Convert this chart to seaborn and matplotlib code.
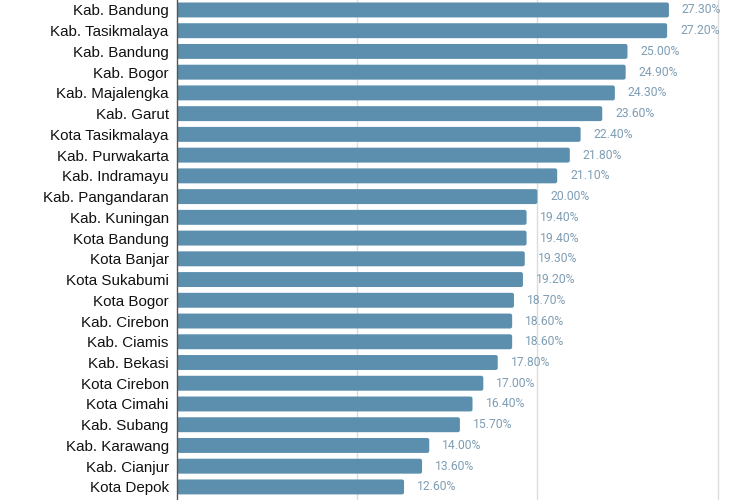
import numpy as np
import pandas as pd
import matplotlib
matplotlib.use('Agg')
import matplotlib.pyplot as plt
import seaborn as sns
from matplotlib.patches import FancyBboxPatch

wilayah = ['Kab. Bandung', 'Kab. Tasikmalaya', 'Kab. Bandung', 'Kab. Bogor',
           'Kab. Majalengka', 'Kab. Garut', 'Kota Tasikmalaya', 'Kab. Purwakarta',
           'Kab. Indramayu', 'Kab. Pangandaran', 'Kab. Kuningan', 'Kota Bandung',
           'Kota Banjar', 'Kota Sukabumi', 'Kota Bogor', 'Kab. Cirebon',
           'Kab. Ciamis', 'Kab. Bekasi', 'Kota Cirebon', 'Kota Cimahi',
           'Kab. Subang', 'Kab. Karawang', 'Kab. Cianjur', 'Kota Depok']
persen = [27.3, 27.2, 25.0, 24.9, 24.3, 23.6, 22.4, 21.8, 21.1, 20.0, 19.4, 19.4,
          19.3, 19.2, 18.7, 18.6, 18.6, 17.8, 17.0, 16.4, 15.7, 14.0, 13.6, 12.6]

df = pd.DataFrame({'id': [str(i) for i in range(len(wilayah))],
                   'wilayah': wilayah, 'persen': persen})

sns.set_style('white')
fig = plt.figure(figsize=(7.5, 5), dpi=100)
ax = fig.add_axes([177 / 750, 0, 1 - 177 / 750, 1])

warna = '#5b8fad'
sns.barplot(data=df, x='persen', y='id', order=df['id'], orient='h',
            color=warna, width=0.72, saturation=1, ax=ax)

# ujung bar dibuat sedikit membulat
for p in list(ax.patches):
    x0, y0 = p.get_x(), p.get_y()
    w, h = p.get_width(), p.get_height()
    p.set_visible(False)
    ax.add_patch(FancyBboxPatch((x0, y0), w, h,
                                boxstyle='round,pad=0,rounding_size=0.12',
                                mutation_aspect=0.8,
                                fc=warna, ec='none', zorder=2))

for i, v in enumerate(persen):
    ax.text(v + 0.72, i, f'{v:.2f}%', va='center', ha='left',
            fontsize=8.7, color='#7f9db3', family='Roboto')

ax.set_xlim(0, 31.8)
ax.set_ylim(23.63, -0.48)
ax.set_xticks([10, 20, 30])
ax.xaxis.grid(True, color='#dcdcdc', linewidth=1)
ax.set_axisbelow(True)
ax.set_yticks(range(len(wilayah)))
ax.set_yticklabels(wilayah, fontsize=10.9, family='Liberation Sans', color='#111111')
ax.tick_params(axis='y', length=0, pad=6)
ax.tick_params(axis='x', length=0, labelbottom=False)
ax.set_xlabel('')
ax.set_ylabel('')
for s in ['top', 'right', 'bottom']:
    ax.spines[s].set_visible(False)
ax.spines['left'].set_color('#555555')
ax.spines['left'].set_linewidth(1)
ax.spines['left'].set_zorder(3)

fig.savefig('out.png', dpi=100)
